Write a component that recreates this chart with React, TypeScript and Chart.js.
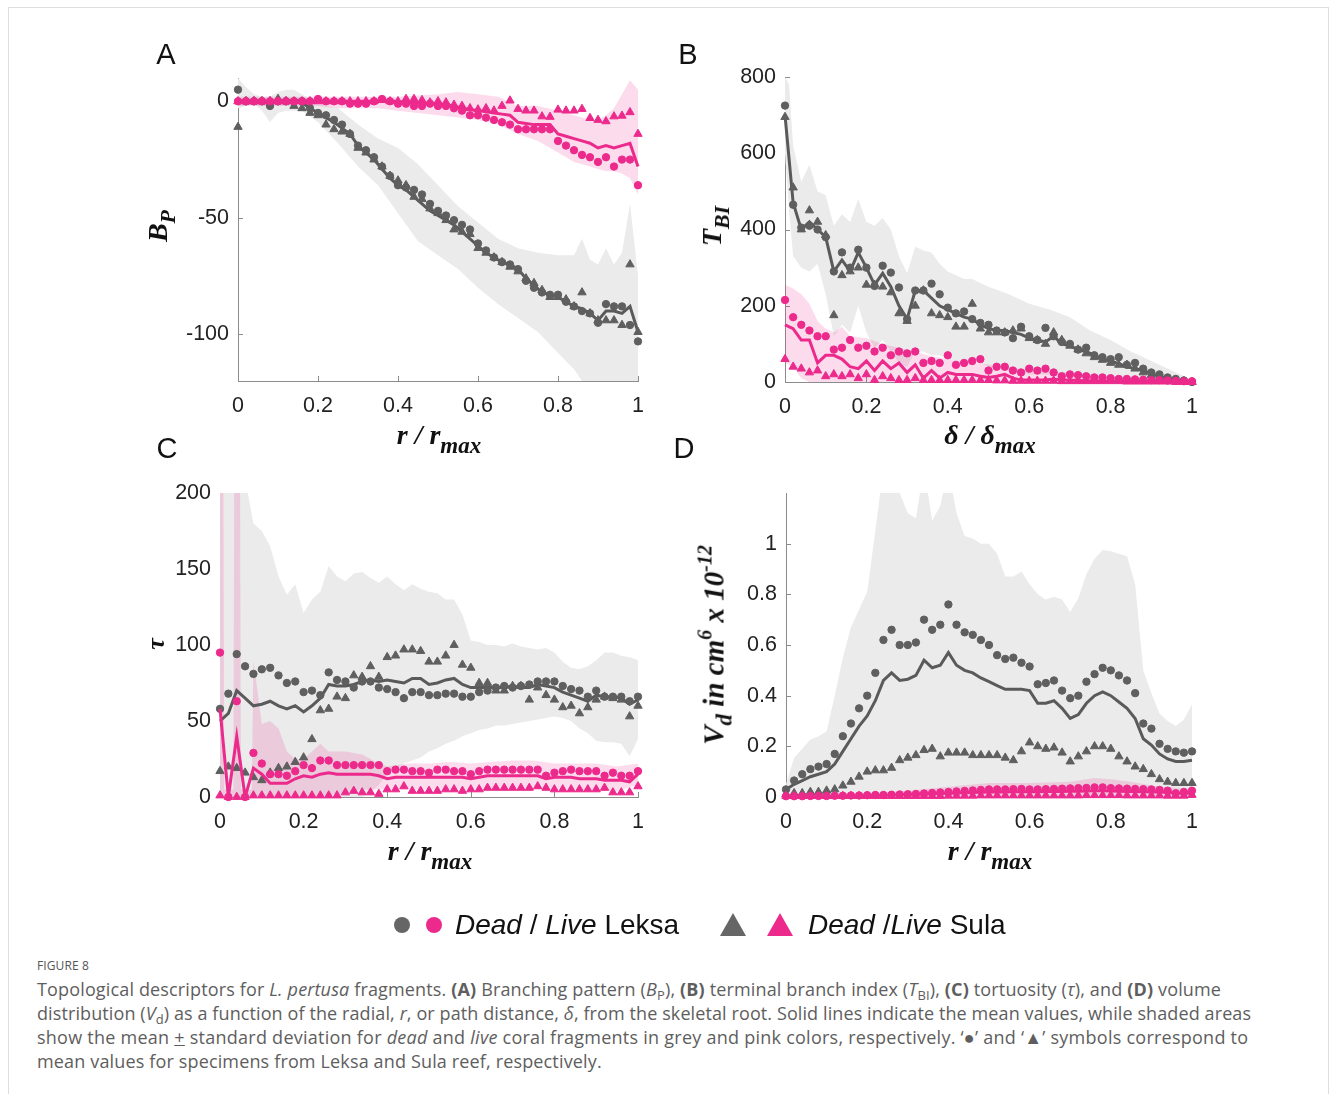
import React, { useEffect, useRef } from "react";
import { Chart, registerables } from "chart.js";
Chart.register(...registerables);

// ---------- shared ----------
const X51 = [0,0.02,0.04,0.06,0.08,0.1,0.12,0.14,0.16,0.18,0.2,0.22,0.24,0.26,0.28,0.3,0.32,0.34,0.36,0.38,0.4,0.42,0.44,0.46,0.48,0.5,0.52,0.54,0.56,0.58,0.6,0.62,0.64,0.66,0.68,0.7,0.72,0.74,0.76,0.78,0.8,0.82,0.84,0.86,0.88,0.9,0.92,0.94,0.96,0.98,1];
const X_TICKS = [0, 0.2, 0.4, 0.6, 0.8, 1];

// ---------- panel A : branching pattern ----------
const A_Y_TICKS = [-100, -50, 0];
const A_DEAD_MEAN = [0,0,0,0,-0.5,0,0,0,-0.5,-3,-5,-7,-9,-11.5,-14,-19,-22,-25,-29,-33,-36,-38,-41,-44,-47,-49,-51,-53,-56,-59,-62,-65,-67,-69,-70,-72,-76,-79,-82,-83,-84,-86,-88,-89,-91,-94,-90,-90,-91,-88,-99];
const A_DEAD_LEKSA = [5,0,0,0,-2,0,0,0,0,-3,-5,-6,-8,-10,-14,-19,-21,-24,-28,-32,-36,-37,-38,-40,-44,-47,-49,-51,-53,-55,-61,-64,-67,-69,-70,-72,-77,-80,-82,-83,-83,-86,-88,-90,-91,-95,-87,-88,-88,-96,-103];
const A_DEAD_SULA = [-11,0,0,0,0,1,0,-2,-3,-5,-6,-10,-12,-13,-14,-20,-22,-25,-28,-32,-34,-36,-41,-42,-46,-48,-51,-55,-56,-57,-63,-65,-67,-69,-71,-73,-76,-78,-81,-84,-84,-85,-88,-82,-91,-94,-94,-94,-96,-70,-99];
const A_LIVE_MEAN = [0,0,0,0,0,0,0,0,0,0,0,0,0,0,0,0,0,0,0.5,0,0,-0.5,-0.5,-1,-1,-1,-1.5,-2,-3,-3.5,-4,-4.5,-5,-5.5,-6,-9,-9.5,-10,-10,-10,-14,-15,-16,-17,-18,-20,-19,-20,-19,-18,-28];
const A_LIVE_LEKSA = [0,0,0,0,0,0,0,0,0,0,1,0,0,0,-1,-1,-1,0,1,0,-1,-1,-2,-2,-1,-2,-2,-3,-4,-6,-6,-7,-8,-9,-10,-12,-12,-12,-12,-12,-17,-19,-21,-23,-24,-26,-24,-28,-25,-25,-36];
const A_LIVE_SULA = [0,0,0,0,0,0,0,0,0,0,0,0,0,0,0,0,0,0,0.5,0,0,1,1,0.5,-0.5,0,-0.5,-1.5,-2,-3,-3.5,-3,-4,-2,0.3,-3.3,-4,-4,-6.5,-6.7,-3.6,-4,-4,-3.3,-7.2,-8,-8.6,-6.5,-6.2,-4.7,-14];
const A_BAND_X = [0,0.02,0.04,0.06,0.08,0.1,0.12,0.14,0.16,0.2,0.25,0.3,0.35,0.4,0.45,0.5,0.55,0.6,0.65,0.7,0.75,0.8,0.84,0.86,0.88,0.9,0.92,0.94,0.96,0.98,1];
const A_DEAD_HI = [10,6,3,2,2,4,5,5,3,-1,-3,-10,-16,-20,-27,-36,-45,-52,-59,-63,-65,-66,-66,-59,-68,-70,-63,-70,-65,-44,-75];
const A_DEAD_LO = [-3,-2,-1,-4,-9,-5,-4,-4,-4,-9,-18,-28,-36,-48,-60,-66,-72,-80,-87,-93,-99,-108,-115,-120,-125,-125,-125,-125,-125,-125,-125];
const A_LIVE_HI = [2,2,2,2,2,2,2,2,2,2,2,2,2,2,2.5,3,4,3,2,-2,-2,-4,-6,-7,-8,-8,-6,-3,3,9,5];
const A_LIVE_LO = [-2,-2,-2,-2,-2,-2,-2,-2,-2,-2,-3,-3,-3,-4,-5,-6,-7,-8,-10,-14,-17,-22,-26,-27,-28,-29,-30,-30,-31,-33,-40];

// ---------- panel B : terminal branch index ----------
const B_Y_TICKS = [0, 200, 400, 600, 800];
const B_DEAD_MEAN = [700,470,400,420,400,380,290,320,290,340,300,255,285,250,200,165,240,240,220,200,190,180,170,165,150,140,135,135,130,125,115,110,105,120,100,95,85,80,70,60,55,48,40,35,30,22,15,10,5,2,0];
const B_DEAD_LEKSA = [725,465,405,410,400,380,290,340,300,347,300,252,305,287,248,165,240,240,258,230,195,180,185,165,155,150,135,130,115,145,120,110,142,120,105,100,85,90,70,65,60,65,45,50,35,25,20,12,8,4,0];
const B_DEAD_SULA = [695,510,400,450,420,385,175,280,290,300,255,255,250,235,180,160,200,240,180,175,170,145,145,205,140,130,130,130,135,140,115,110,100,130,110,95,85,75,65,58,50,45,45,35,25,18,12,8,4,2,0];
const B_LIVE_MEAN = [150,140,110,110,50,70,70,60,40,35,55,30,55,35,50,25,45,10,30,10,25,20,20,20,15,12,15,20,10,5,5,5,5,8,5,5,4,3,3,2,2,2,2,1,1,1,1,1,0,0,0];
const B_LIVE_LEKSA = [215,170,150,135,120,120,85,90,110,90,95,80,90,70,80,75,80,50,55,50,70,45,50,55,60,30,40,40,30,25,35,30,35,25,15,20,18,15,12,12,10,8,8,7,6,5,5,4,3,2,2];
const B_LIVE_SULA = [60,40,35,25,30,15,20,15,20,10,20,5,15,10,5,5,10,5,5,5,5,5,5,5,5,5,4,4,3,3,3,3,3,3,2,2,2,2,2,2,2,2,1,1,1,1,1,1,0,0,0];
const B_BAND_X = [0,0.01,0.02,0.04,0.06,0.08,0.1,0.12,0.14,0.16,0.18,0.2,0.22,0.24,0.26,0.28,0.3,0.32,0.34,0.36,0.38,0.4,0.42,0.44,0.46,0.48,0.5,0.55,0.6,0.65,0.7,0.75,0.8,0.85,0.9,0.95,1];
const B_DEAD_HI = [800,780,620,525,570,500,490,410,440,420,480,420,410,430,400,330,285,355,345,340,310,290,280,270,270,260,250,230,205,190,170,135,110,80,55,30,5];
const B_DEAD_LO = [600,450,330,300,290,310,230,120,150,130,200,130,90,110,80,50,40,80,80,70,70,60,58,56,55,50,40,30,20,20,15,10,5,2,0,0,0];
const B_LBAND_X = [0,0.02,0.04,0.06,0.08,0.1,0.12,0.14,0.16,0.2,0.24,0.28,0.3,0.35,0.4,0.45,0.5,0.55,0.6,0.7,0.8,0.9,1];
const B_LIVE_HI = [255,245,230,205,160,140,130,145,120,115,100,90,85,70,60,55,45,40,30,25,15,8,2];
const B_LIVE_LO = [50,40,10,0,0,0,0,0,0,0,0,0,0,0,0,0,0,0,0,0,0,0,0];

// ---------- panel C : tortuosity ----------
const C_Y_TICKS = [0, 50, 100, 150, 200];
const C_DEAD_MEAN = [50,55,70,65,60,61,63,60,58,60,56,60,65,74,73,73,74,76,77,76,77,76,75,78,78,74,75,77,78,74,72,72,72,72,72,73,72,72,74,73,72,69,67,65,63,67,66,66,65,61,64];
const C_DEAD_LEKSA = [58,68,94,86,81,84,85,80,75,76,69,70,67,82,77,76,72,76,76,72,71,69,65,69,69,67,67,68,68,66,66,69,70,72,73,72,73,74,76,76,76,73,71,70,66,70,66,66,66,63,66];
const C_DEAD_SULA = [17,20,19,16,13,11,16,19,20,23,26,38,57,58,66,65,80,79,86,79,92,93,97,97,96,89,89,93,100,87,85,75,75,70,70,73,73,64,72,67,64,59,60,55,59,64,66,65,64,53,60];
const C_LIVE_MEAN = [58,0,40,0,19,15,9,9,9,12,14,13,15,16,15,15,15,15,15,14,12,13,13,13,13,13,13,13,13,13,12,13,14,14,14,14,14,14,14,12,13,13,13,12,12,12,11,11,11,10,15];
const C_LIVE_LEKSA = [95,0,63,0,29,22,15,15,14,17,21,19,24,24,21,21,21,21,21,21,17,18,18,17,17,16,18,18,17,17,15,17,18,18,18,18,18,18,18,14,16,17,18,17,17,17,14,16,14,14,17];
const C_LIVE_SULA = [1,0,0,0,1,1,1,1,1,1,1,1,1,1,1,3,4,3,3,2,5,5,7,4,4,4,4,5,5,4,5,5,6,6,6,6,6,6,7,6,5,5,5,5,5,5,6,3,3,3,7];
const C_DEAD_HI = [210,210,210,210,180,175,165,145,133,140,121,130,135,152,145,142,147,148,144,141,145,140,136,140,137,135,134,130,130,120,103,102,100,100,99,101,99,98,97,98,95,89,85,84,86,90,95,95,93,92,90];
const C_DEAD_LO = [0,0,0,0,0,0,0,0,0,0,0,0,0,0,0,0,0,0,3,8,15,18,22,24,26,30,32,35,37,40,42,44,45,47,47,48,49,50,51,52,53,52,50,45,42,37,36,36,35,27,38];
const C_LBAND_X = [0,0.008,0.01,0.032,0.034,0.048,0.05,0.076,0.08,0.1,0.12,0.14,0.16,0.18,0.2,0.22,0.24,0.26,0.28,0.3,0.34,0.38,0.4,0.45,0.5,0.55,0.6,0.65,0.7,0.75,0.8,0.85,0.9,0.95,1];
const C_LIVE_HI = [210,210,5,5,210,210,5,5,90,48,50,45,30,25,25,30,35,30,30,30,28,22,20,22,22,23,22,23,24,24,22,22,22,20,22];
const C_LIVE_LO = [0,0,0,0,0,0,0,0,0,0,0,0,0,0,0,0,0,1,2,3,5,5,5,5,5,5,5,5,6,6,5,5,4,4,8];

// ---------- panel D : volume distribution ----------
const D_Y_TICKS = [0, 0.2, 0.4, 0.6, 0.8, 1];
const D_DEAD_MEAN = [0.03,0.05,0.065,0.08,0.09,0.1,0.13,0.18,0.23,0.28,0.32,0.38,0.46,0.49,0.46,0.465,0.48,0.54,0.51,0.52,0.57,0.52,0.5,0.49,0.47,0.455,0.44,0.425,0.425,0.425,0.42,0.37,0.37,0.38,0.35,0.31,0.325,0.37,0.4,0.415,0.4,0.375,0.35,0.31,0.23,0.205,0.17,0.15,0.14,0.14,0.145];
const D_DEAD_LEKSA = [0.03,0.065,0.09,0.11,0.12,0.13,0.17,0.24,0.29,0.35,0.40,0.49,0.62,0.66,0.60,0.60,0.61,0.70,0.66,0.68,0.76,0.68,0.65,0.64,0.62,0.60,0.56,0.545,0.55,0.53,0.515,0.445,0.45,0.46,0.42,0.39,0.40,0.455,0.485,0.51,0.50,0.48,0.46,0.41,0.29,0.27,0.21,0.19,0.18,0.175,0.18];
const D_DEAD_SULA = [0.01,0.015,0.015,0.02,0.02,0.025,0.03,0.045,0.06,0.08,0.10,0.105,0.105,0.115,0.145,0.155,0.165,0.185,0.19,0.16,0.175,0.175,0.175,0.165,0.165,0.165,0.165,0.155,0.145,0.18,0.215,0.20,0.19,0.195,0.175,0.14,0.16,0.18,0.20,0.20,0.19,0.16,0.14,0.12,0.11,0.09,0.07,0.06,0.055,0.055,0.055];
const D_LIVE_MEAN = [0,0,0,0,0,0,0,0.002,0.003,0.004,0.005,0.006,0.007,0.008,0.009,0.01,0.011,0.012,0.013,0.014,0.015,0.016,0.017,0.018,0.019,0.02,0.02,0.02,0.021,0.021,0.021,0.021,0.022,0.022,0.022,0.023,0.023,0.024,0.025,0.025,0.024,0.023,0.022,0.022,0.021,0.02,0.02,0.018,0.016,0.015,0.015];
const D_LIVE_LEKSA = [0.003,0.003,0.003,0.004,0.004,0.004,0.005,0.005,0.006,0.006,0.007,0.008,0.008,0.009,0.01,0.011,0.012,0.014,0.016,0.018,0.02,0.022,0.024,0.026,0.028,0.03,0.03,0.03,0.031,0.032,0.03,0.03,0.031,0.032,0.033,0.034,0.035,0.036,0.038,0.038,0.035,0.034,0.033,0.032,0.031,0.03,0.028,0.025,0.015,0.02,0.025];
const D_LIVE_SULA = [0.004,0.004,0.004,0.004,0.004,0.004,0.004,0.004,0.004,0.004,0.004,0.004,0.004,0.004,0.004,0.004,0.004,0.004,0.004,0.004,0.005,0.005,0.005,0.005,0.006,0.006,0.006,0.006,0.006,0.006,0.006,0.006,0.006,0.006,0.006,0.006,0.006,0.007,0.007,0.007,0.007,0.007,0.006,0.006,0.006,0.006,0.006,0.005,0.005,0.005,0.008];
const D_DEAD_HI = [0.05,0.155,0.19,0.227,0.24,0.26,0.40,0.55,0.67,0.74,0.81,1.05,1.3,1.3,1.2,1.12,1.1,1.3,1.09,1.15,1.3,1.12,1.03,1.02,1.0,1.0,0.96,0.87,0.87,0.89,0.84,0.80,0.78,0.79,0.78,0.73,0.785,0.88,0.94,0.975,0.97,0.96,0.95,0.84,0.5,0.41,0.33,0.30,0.28,0.306,0.365];
const D_LBAND_X = [0,0.2,0.3,0.4,0.5,0.6,0.7,0.76,0.8,0.85,0.9,1];
const D_LIVE_HI = [0.01,0.015,0.025,0.04,0.055,0.055,0.06,0.075,0.07,0.06,0.045,0.03];

// ---------- styles ----------
const GREY = "#5f5f5f";
const GREY_LINE = "#5a5a5a";
const GREY_BAND = "#ebebeb";
const PINK = "#ec2a8c";
const PINK_BAND = "rgba(236, 42, 140, 0.17)";
const AXIS = "#8c8c8c";
const TICK_FONT = "'Liberation Sans', Arial, Helvetica, sans-serif";
const SERIF = "'Liberation Serif', 'Times New Roman', 'DejaVu Serif', serif";
const SANS = "'Liberation Sans', Arial, Helvetica, sans-serif";

const PAD_L = 90, PAD_T = 30, PAD_R = 24, PAD_B = 44;

const pts = (xs: number[], ys: number[]) => xs.map((x, i) => ({ x, y: ys[i] }));
const fmt = (v: number) => String(Math.round(v * 10) / 10);

type Band = { x: number[]; hi: number[]; lo?: number[] };
type Spec = {
  left: number; top: number; w: number; h: number;
  yMin: number; yMax: number; yTicks: number[];
  deadBand: Band; liveBand: Band;
  deadMean: number[]; deadLeksa: number[]; deadSula: number[];
  liveMean: number[]; liveLeksa: number[]; liveSula: number[];
};

const inwardTicks = {
  id: "inwardTicks",
  beforeDatasetsDraw(chart: any) {
    const { ctx, chartArea: a, scales } = chart;
    const x = scales.x, y = scales.y;
    ctx.save();
    ctx.strokeStyle = AXIS;
    ctx.lineWidth = 1;
    ctx.beginPath();
    x.ticks.forEach((t: any) => {
      const px = Math.round(x.getPixelForValue(t.value)) + 0.5;
      ctx.moveTo(px, a.bottom);
      ctx.lineTo(px, a.bottom - 5);
    });
    y.ticks.forEach((t: any) => {
      const py = Math.round(y.getPixelForValue(t.value)) + 0.5;
      ctx.moveTo(a.left, py);
      ctx.lineTo(a.left + 5, py);
    });
    ctx.stroke();
    ctx.restore();
  },
};

function bandSets(b: Band, color: string, order: number) {
  const clear = "rgba(0,0,0,0)";
  if (!b.lo) {
    return [{ data: pts(b.x, b.hi), fill: "origin", backgroundColor: color, borderColor: clear, borderWidth: 1, pointRadius: 0, order }];
  }
  return [
    { data: pts(b.x, b.hi), fill: "+1", backgroundColor: color, borderColor: clear, borderWidth: 1, pointRadius: 0, order },
    { data: pts(b.x, b.lo), fill: false, backgroundColor: clear, borderColor: clear, borderWidth: 1, pointRadius: 0, order },
  ];
}

function markers(ys: number[], color: string, style: string, r: number, order: number) {
  return {
    data: pts(X51, ys), showLine: false, pointStyle: style, pointRadius: r,
    pointBackgroundColor: color, pointBorderColor: color, pointBorderWidth: 1,
    backgroundColor: color, borderColor: color, order, clip: 10,
  };
}

function meanLine(ys: number[], color: string, order: number) {
  return { data: pts(X51, ys), borderColor: color, borderWidth: 3, pointRadius: 0, fill: false, tension: 0, order, clip: 2 };
}

function Panel({ s }: { s: Spec }) {
  const ref = useRef<HTMLCanvasElement>(null);
  const cw = s.w + PAD_L + PAD_R;
  const ch = s.h + PAD_T + PAD_B;
  useEffect(() => {
    if (!ref.current) return;
    const datasets: any[] = [
      ...bandSets(s.deadBand, GREY_BAND, 100),
      ...bandSets(s.liveBand, PINK_BAND, 90),
      meanLine(s.deadMean, GREY_LINE, 50),
      markers(s.deadSula, GREY, "triangle", 4.8, 41),
      markers(s.deadLeksa, GREY, "circle", 3.7, 40),
      meanLine(s.liveMean, PINK, 30),
      markers(s.liveSula, PINK, "triangle", 4.8, 21),
      markers(s.liveLeksa, PINK, "circle", 3.7, 20),
    ];
    const tickCommon = {
      color: "#222",
      font: { family: TICK_FONT, size: 21.5 },
      callback: (v: any) => fmt(Number(v)),
      autoSkip: false,
      maxRotation: 0,
    };
    const chart = new Chart(ref.current, {
      type: "line",
      data: { datasets },
      plugins: [inwardTicks],
      options: {
        responsive: false,
        animation: false,
        devicePixelRatio: 1,
        layout: { padding: { left: 0, top: PAD_T, right: PAD_R, bottom: 0 } },
        plugins: { legend: { display: false }, tooltip: { enabled: false }, title: { display: false } },
        scales: {
          x: {
            type: "linear", min: 0, max: 1,
            afterBuildTicks: (sc: any) => { sc.ticks = X_TICKS.map((v) => ({ value: v })); },
            afterFit: (sc: any) => { sc.height = PAD_B; },
            grid: { display: false, drawTicks: false },
            border: { display: true, color: AXIS, width: 1 },
            ticks: { ...tickCommon, padding: 12 },
          },
          y: {
            type: "linear", min: s.yMin, max: s.yMax,
            afterBuildTicks: (sc: any) => { sc.ticks = s.yTicks.map((v) => ({ value: v })); },
            afterFit: (sc: any) => { sc.width = PAD_L; },
            grid: { display: false, drawTicks: false },
            border: { display: true, color: AXIS, width: 1 },
            ticks: { ...tickCommon, padding: 9 },
          },
        },
      } as any,
    });
    return () => chart.destroy();
  }, []);
  return (
    <canvas
      ref={ref}
      width={cw}
      height={ch}
      style={{ position: "absolute", left: s.left - PAD_L, top: s.top - PAD_T, width: cw, height: ch }}
    />
  );
}

const SPEC_A: Spec = {
  left: 238, top: 78, w: 400, h: 303, yMin: -120, yMax: 10, yTicks: A_Y_TICKS,
  deadBand: { x: A_BAND_X, hi: A_DEAD_HI, lo: A_DEAD_LO },
  liveBand: { x: A_BAND_X, hi: A_LIVE_HI, lo: A_LIVE_LO },
  deadMean: A_DEAD_MEAN, deadLeksa: A_DEAD_LEKSA, deadSula: A_DEAD_SULA,
  liveMean: A_LIVE_MEAN, liveLeksa: A_LIVE_LEKSA, liveSula: A_LIVE_SULA,
};
const SPEC_B: Spec = {
  left: 785, top: 77, w: 407, h: 305, yMin: 0, yMax: 800, yTicks: B_Y_TICKS,
  deadBand: { x: B_BAND_X, hi: B_DEAD_HI, lo: B_DEAD_LO },
  liveBand: { x: B_LBAND_X, hi: B_LIVE_HI, lo: B_LIVE_LO },
  deadMean: B_DEAD_MEAN, deadLeksa: B_DEAD_LEKSA, deadSula: B_DEAD_SULA,
  liveMean: B_LIVE_MEAN, liveLeksa: B_LIVE_LEKSA, liveSula: B_LIVE_SULA,
};
const SPEC_C: Spec = {
  left: 220, top: 493, w: 418, h: 304, yMin: 0, yMax: 200, yTicks: C_Y_TICKS,
  deadBand: { x: X51, hi: C_DEAD_HI, lo: C_DEAD_LO },
  liveBand: { x: C_LBAND_X, hi: C_LIVE_HI, lo: C_LIVE_LO },
  deadMean: C_DEAD_MEAN, deadLeksa: C_DEAD_LEKSA, deadSula: C_DEAD_SULA,
  liveMean: C_LIVE_MEAN, liveLeksa: C_LIVE_LEKSA, liveSula: C_LIVE_SULA,
};
const SPEC_D: Spec = {
  left: 786, top: 493, w: 406, h: 304, yMin: 0, yMax: 1.2, yTicks: D_Y_TICKS,
  deadBand: { x: X51, hi: D_DEAD_HI },
  liveBand: { x: D_LBAND_X, hi: D_LIVE_HI },
  deadMean: D_DEAD_MEAN, deadLeksa: D_DEAD_LEKSA, deadSula: D_DEAD_SULA,
  liveMean: D_LIVE_MEAN, liveLeksa: D_LIVE_LEKSA, liveSula: D_LIVE_SULA,
};

// ---------- text helpers ----------
const centered = (x: number, y: number, extra: React.CSSProperties = {}): React.CSSProperties => ({
  position: "absolute", left: x, top: y, transform: "translate(-50%, -50%)", whiteSpace: "nowrap", lineHeight: 1, ...extra,
});

const sub = (t: string, size = 22, off = 9) => (
  <span style={{ fontSize: size, position: "relative", top: off }}>{t}</span>
);
const sup = (t: string, size = 19, off = -12) => (
  <span style={{ fontSize: size, position: "relative", top: off }}>{t}</span>
);

const titleFont: React.CSSProperties = { fontFamily: SERIF, fontStyle: "italic", fontWeight: "bold", fontSize: 28, color: "#111" };

function XTitle({ x, y, main }: { x: number; y: number; main: string }) {
  return (
    <div style={centered(x, y, titleFont)}>
      {main}{sub("max", 23, 9)}
    </div>
  );
}

function YTitle({ x, y, size = 28, children }: { x: number; y: number; size?: number; children: React.ReactNode }) {
  return (
    <div style={{ ...centered(x, y, titleFont), fontSize: size, transform: "translate(-50%, -50%) rotate(-90deg)" }}>
      {children}
    </div>
  );
}

const letter = (t: string, x: number, y: number) => (
  <div style={centered(x, y, { fontFamily: SANS, fontSize: 29, color: "#111" })}>{t}</div>
);

const capLine: React.CSSProperties = {
  position: "absolute", left: 37, whiteSpace: "nowrap", fontFamily: "'Open Sans', 'Noto Sans', sans-serif",
  fontSize: 18, letterSpacing: 0.15, color: "#5e5e5e", lineHeight: "24px",
};
const cs = (t: string) => <span style={{ fontSize: "0.72em", position: "relative", top: 4 }}>{t}</span>;

const legendText: React.CSSProperties = {
  position: "absolute", top: 925, transform: "translateY(-50%)", whiteSpace: "nowrap",
  fontFamily: SANS, fontSize: 28, color: "#111", lineHeight: 1,
};

export default function App() {
  return (
    <div style={{ position: "absolute", left: 0, top: 0, width: 1333, height: 1094, overflow: "hidden", background: "#fff" }}>
      <div style={{ position: "absolute", left: 8, top: 7, width: 1321, height: 1120, border: "1px solid #dedede", boxSizing: "border-box" }} />

      <Panel s={SPEC_A} />
      <Panel s={SPEC_B} />
      <Panel s={SPEC_C} />
      <Panel s={SPEC_D} />

      {letter("A", 166, 54)}
      {letter("B", 688, 54)}
      {letter("C", 167, 448)}
      {letter("D", 684, 448)}

      <XTitle x={439} y={435} main="r / r" />
      <XTitle x={990} y={435} main="δ / δ" />
      <XTitle x={430} y={851} main="r / r" />
      <XTitle x={990} y={851} main="r / r" />

      <YTitle x={158} y={226}>B{sub("P", 22, 8)}</YTitle>
      <YTitle x={712} y={226}>T{sub("BI", 22, 8)}</YTitle>
      <YTitle x={155} y={644}><span style={{ fontSize: 26 }}>τ</span></YTitle>
      <YTitle x={714} y={645} size={29}>
        V{sub("d", 23, 8)} in cm{sup("6", 20, -12)} x 10{sup("-12", 20, -12)}
      </YTitle>

      {/* legend */}
      <div style={{ position: "absolute", left: 394, top: 917, width: 16, height: 16, borderRadius: "50%", background: "#666" }} />
      <div style={{ position: "absolute", left: 426, top: 917, width: 16, height: 16, borderRadius: "50%", background: PINK }} />
      <div style={{ ...legendText, left: 455 }}>
        <i>Dead</i> / <i>Live</i> Leksa
      </div>
      <div style={{ position: "absolute", left: 720, top: 913, width: 0, height: 0, borderLeft: "13px solid transparent", borderRight: "13px solid transparent", borderBottom: "23px solid #666" }} />
      <div style={{ position: "absolute", left: 767, top: 913, width: 0, height: 0, borderLeft: "13px solid transparent", borderRight: "13px solid transparent", borderBottom: "23px solid " + PINK }} />
      <div style={{ ...legendText, left: 808 }}>
        <i>Dead</i> /<i>Live</i> Sula
      </div>

      {/* caption */}
      <div style={{ ...capLine, top: 954, fontSize: 12, letterSpacing: 0.1, color: "#555" }}>FIGURE 8</div>
      <div style={{ ...capLine, top: 977 }}>
        Topological descriptors for <i>L. pertusa</i> fragments. <b>(A)</b> Branching pattern (<i>B</i>{cs("P")}), <b>(B)</b> terminal branch index (<i>T</i>{cs("BI")}), <b>(C)</b> tortuosity (<i>τ</i>), and <b>(D)</b> volume
      </div>
      <div style={{ ...capLine, top: 1001, letterSpacing: 0.1 }}>
        distribution (<i>V</i>{cs("d")}) as a function of the radial, <i>r</i>, or path distance, <i>δ</i>, from the skeletal root. Solid lines indicate the mean values, while shaded areas
      </div>
      <div style={{ ...capLine, top: 1025, letterSpacing: 0.25 }}>
        show the mean <u>+</u> standard deviation for <i>dead</i> and <i>live</i> coral fragments in grey and pink colors, respectively. ‘●’ and ‘▲’ symbols correspond to
      </div>
      <div style={{ ...capLine, top: 1049 }}>
        mean values for specimens from Leksa and Sula reef, respectively.
      </div>
    </div>
  );
}
